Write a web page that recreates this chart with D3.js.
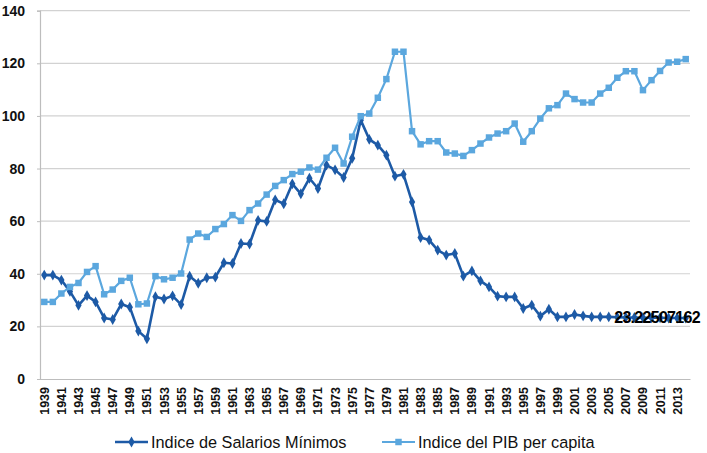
<!DOCTYPE html>
<html>
<head>
<meta charset="utf-8">
<script src="https://cdn.jsdelivr.net/npm/d3@7"></script>
<style>
  html, body { margin: 0; padding: 0; background: #fff; }
  svg { display: block; font-family: "Liberation Sans", Arial, Helvetica, sans-serif; }
</style>
</head>
<body>
<svg id="chart" width="707" height="453"></svg>
<script>
const years = [1939,1940,1941,1942,1943,1944,1945,1946,1947,1948,1949,1950,1951,1952,1953,1954,1955,1956,1957,1958,
  1959,1960,1961,1962,1963,1964,1965,1966,1967,1968,1969,1970,1971,1972,1973,1974,1975,1976,1977,1978,
  1979,1980,1981,1982,1983,1984,1985,1986,1987,1988,1989,1990,1991,1992,1993,1994,1995,1996,1997,1998,
  1999,2000,2001,2002,2003,2004,2005,2006,2007,2008,2009,2010,2011,2012,2013,2014];

const salarios = [39.5,39.5,37.6,33.3,28.0,31.7,29.3,23.2,22.6,28.5,27.3,18.2,15.3,31.3,30.4,31.6,28.3,39.1,36.4,38.5,
  38.7,44.2,43.9,51.5,51.3,60.3,59.9,68.1,66.6,74.2,70.4,76.3,72.4,81.3,79.5,76.6,83.9,98.4,91.1,88.9,
  85.1,77.1,77.8,67.3,53.8,52.8,49.0,47.1,47.7,39.1,41.1,37.3,35.0,31.5,31.2,31.2,26.8,28.1,23.9,26.5,
  23.6,23.6,24.5,24.0,23.6,23.6,23.6,23.5,23.4,23.4,23.3,23.3,23.3,23.2,23.2,23.2];

const pib = [29.3,29.3,32.5,35.0,36.5,40.7,42.9,32.2,34.0,37.3,38.5,28.4,28.7,39.1,37.9,38.5,40.1,53.0,55.3,54.0,
  57.0,58.9,62.3,60.1,64.2,66.7,70.1,73.4,75.6,77.9,78.8,80.4,79.6,84.1,87.9,81.9,92.1,99.9,100.9,106.9,
  114.0,124.4,124.4,94.2,89.2,90.4,90.4,86.1,85.7,84.8,87.0,89.5,91.8,93.3,94.2,97.1,90.2,94.2,99.0,102.9,
  104.1,108.5,106.4,105.1,105.1,108.5,110.7,114.5,117.0,117.0,109.8,113.6,117.1,120.3,120.6,121.6];

const xTickLabels = years.filter((y, i) => i % 2 === 0);
const yTicks = [0,20,40,60,80,100,120,140];
const seriesNames = ["Indice de Salarios Mínimos", "Indice del PIB per capita"];
const dataLabelYear = 2011;
const dataLabelText = "23.22507162";

const darkColor = "#1d5aa6";
const lightColor = "#5ba7de";

const svg = d3.select("#chart");
const m = { left: 40, right: 17, top: 10.7, bottom: 74 };
const W = 707, H = 453;

const x = d3.scaleBand().domain(years).range([m.left, W - m.right]).paddingInner(0).paddingOuter(0);
const y = d3.scaleLinear().domain([0, 140]).range([H - m.bottom, m.top]);
const cx = d => x(d) + x.bandwidth() / 2;

// gridlines
svg.append("g").selectAll("line").data(yTicks.filter(t => t > 0)).join("line")
  .attr("x1", m.left).attr("x2", W - m.right)
  .attr("y1", d => y(d)).attr("y2", d => y(d))
  .attr("stroke", "#d2d2d2").attr("stroke-width", 1.2);

// y axis
const yAxis = svg.append("g").attr("transform", `translate(${m.left},0)`)
  .call(d3.axisLeft(y).tickValues(yTicks).tickSize(3).tickPadding(12));
yAxis.select(".domain").attr("stroke", "#bdbdbd").attr("stroke-width", 1.2);
yAxis.selectAll(".tick line").attr("stroke", "#bdbdbd");
yAxis.selectAll("text").attr("font-size", "14px").attr("font-weight", "bold").attr("fill", "#111");

// x axis
const xAxis = svg.append("g").attr("transform", `translate(0,${y(0)})`)
  .call(d3.axisBottom(x).tickValues(xTickLabels).tickSize(0).tickPadding(0));
xAxis.select(".domain").attr("stroke", "#bdbdbd").attr("stroke-width", 1.2);
xAxis.selectAll("text")
  .attr("font-size", "12.5px").attr("font-weight", "bold").attr("fill", "#111")
  .attr("text-anchor", "end")
  .attr("transform", "rotate(-90)")
  .attr("x", -8).attr("y", 0).attr("dy", "0.36em");

const lineGen = vals => d3.line().x((d, i) => cx(years[i])).y(d => y(d))(vals);

const diamond = d3.symbol().type(d3.symbolDiamond).size(34);
const square = d3.symbol().type(d3.symbolSquare).size(42);

// dark series
svg.append("path").attr("d", lineGen(salarios))
  .attr("fill", "none").attr("stroke", darkColor).attr("stroke-width", 2.6).attr("stroke-linejoin", "round");
svg.append("g").selectAll("path").data(salarios).join("path")
  .attr("d", diamond)
  .attr("transform", (d, i) => `translate(${cx(years[i])},${y(d)})`)
  .attr("fill", darkColor);

// light series
svg.append("path").attr("d", lineGen(pib))
  .attr("fill", "none").attr("stroke", lightColor).attr("stroke-width", 2.2).attr("stroke-linejoin", "round");
svg.append("g").selectAll("path").data(pib).join("path")
  .attr("d", square)
  .attr("transform", (d, i) => `translate(${cx(years[i])},${y(d)})`)
  .attr("fill", lightColor);

// data label
const li = years.indexOf(dataLabelYear);
svg.append("text")
  .attr("x", cx(dataLabelYear) - 3).attr("y", y(salarios[li]))
  .attr("dy", "0.36em").attr("text-anchor", "middle")
  .attr("font-size", "16px").attr("font-weight", "bold").attr("fill", "#000")
  .attr("letter-spacing", "-0.7px")
  .text(dataLabelText);

// legend
const legend = svg.append("g");
const legItems = [
  { name: seriesNames[0], color: darkColor, sym: diamond, x0: 115, w: 2.6 },
  { name: seriesNames[1], color: lightColor, sym: square, x0: 382, w: 2.2 }
];
const ly = 442;
legItems.forEach(it => {
  legend.append("line").attr("x1", it.x0).attr("x2", it.x0 + 33).attr("y1", ly).attr("y2", ly)
    .attr("stroke", it.color).attr("stroke-width", it.w);
  legend.append("path").attr("d", it.sym).attr("transform", `translate(${it.x0 + 16.5},${ly})`).attr("fill", it.color);
  legend.append("text").attr("x", it.x0 + 36).attr("y", ly).attr("dy", "0.36em")
    .attr("font-size", "16.3px").attr("fill", "#111").text(it.name);
});
</script>
</body>
</html>
